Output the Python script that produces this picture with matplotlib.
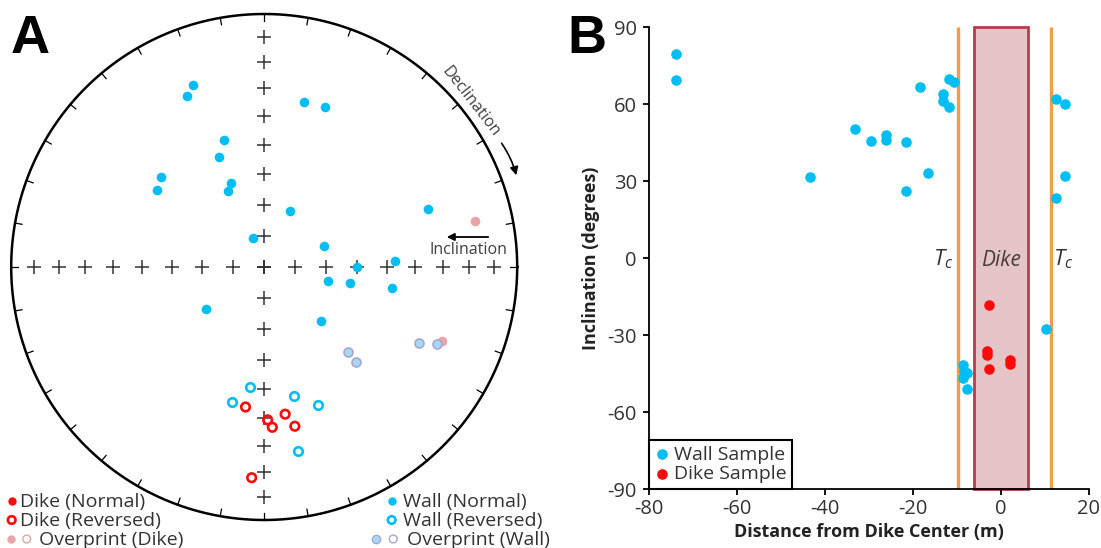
import numpy as np
import matplotlib.pyplot as plt
from matplotlib.patches import Rectangle, FancyArrowPatch

plt.rcParams['font.family'] = ['Open Sans', 'DejaVu Sans']
plt.rcParams['mathtext.fontset'] = 'custom'
plt.rcParams['mathtext.it'] = 'Open Sans:italic'
plt.rcParams['mathtext.rm'] = 'Open Sans'
plt.rcParams['axes.unicode_minus'] = False

# --- stereonet directions: declination / inclination (degrees) ---
wall_normal_dec = [338.7, 335.8, 13.6, 20.9, 342.3, 337.6, 311.1, 305.8, 338.1, 334.8, 24.6,
                   70.4, 338.6, 71.0, 87.4, 89.8, 102.0, 100.3, 99.4, 234.2, 134.0]
wall_normal_inc = [23.8, 26.9, 33.5, 32.8, 46.2, 51.2, 45.2, 46.7, 60.8, 62.8, 70.2,
                   31.7, 80.1, 69.7, 47.1, 59.8, 68.9, 61.8, 47.6, 66.8, 64.7]
wall_rev_dec = [186.7, 193.3, 167.2, 158.7, 169.6]
wall_rev_inc = [-50.4, -44.2, -46.5, -41.1, -27.1]
wall_over_dec = [135.4, 136.1, 116.2, 114.1]
wall_over_inc = [50.8, 46.7, 32.4, 26.1]
dike_normal_dec = []
dike_normal_inc = []
dike_rev_dec = [187.6, 171.9, 178.7, 177.1, 169.1, 183.4]
dike_rev_inc = [-43.5, -40.9, -39.4, -36.7, -36.1, -17.7]
dike_over_dec = [77.7, 112.7]
dike_over_inc = [16.0, 25.0]

# --- inclination vs distance ---
wall_dist = [-73.9, -73.9, -43.4, -33.2, -29.6, -26.2, -26.2, -21.5, -21.5, -18.3, -16.6,
             -13.2, -13.2, -11.8, -11.8, -10.6, 12.6, 14.6, 14.6, 12.6, 10.2,
             -8.5, -8.3, -7.6, -8.5, -7.7]
wall_incl = [79.6, 69.5, 31.6, 50.5, 45.6, 48.0, 46.1, 45.2, 26.3, 66.8, 33.3,
             64.0, 61.3, 59.1, 69.7, 68.8, 61.9, 60.3, 32.2, 23.5, -27.5,
             -41.5, -44.0, -44.8, -46.8, -51.0]
dike_dist = [-2.7, -3.1, -3.1, -2.7, 2.0, 2.0]
dike_incl = [-18.2, -36.2, -37.5, -43.2, -39.6, -41.2]
tc_left, tc_right = -9.7, 11.4
dike_edges = (-6.1, 6.1)

BLUE = '#00BEF2'
RED = '#FF0A0A'
PINK = '#E8A4A8'
LBLUE = '#A4DAF0'
LAV = '#A9A6D6'
TXT = '#333333'


def project(dec, inc):
    # equal-area (Schmidt) projection, unit radius
    d = np.radians(np.asarray(dec, float))
    i = np.abs(np.asarray(inc, float))
    r = np.sqrt(2) * np.sin(np.radians(90 - i) / 2)
    return r * np.sin(d), r * np.cos(d)


W, H = 1101, 548
fig = plt.figure(figsize=(W / 100, H / 100), dpi=100)

# ---------------- panel A: stereonet ----------------
R, cx, cy = 253.0, 264.2, 267.0
aw = 545
ax = fig.add_axes([0, 0, aw / W, 1])
ax.set_xlim(-cx / R, (aw - cx) / R)
ax.set_ylim((cy - H) / R, cy / R)
ax.axis('off')


def px(x, y):
    return (x - cx) / R, (cy - y) / R


t = np.linspace(0, 2 * np.pi, 500)
ax.plot(np.cos(t), np.sin(t), color='black', lw=1.8, zorder=2)
for d in np.radians(np.arange(0, 360, 10)):
    ax.plot([np.sin(d), 0.972 * np.sin(d)], [np.cos(d), 0.972 * np.cos(d)],
            color='black', lw=0.9, zorder=2)

grid_inc = np.arange(10, 91, 10)
gx, gy = [], []
for d in (0, 90, 180, 270):
    xx, yy = project(np.full(grid_inc.size, d), grid_inc)
    gx.extend(xx)
    gy.extend(yy)
ax.plot(gx, gy, '+', ms=9.5, mew=1.1, color=TXT, zorder=1)

x, y = project(dike_over_dec, dike_over_inc)
ax.scatter(x, y, s=48, color=PINK, lw=0, zorder=3)
x, y = project(wall_over_dec, wall_over_inc)
ax.scatter(x, y, s=42, facecolor=LBLUE, edgecolor=LAV, lw=1.2, zorder=4)
x, y = project(wall_normal_dec, wall_normal_inc)
ax.scatter(x, y, s=48, color=BLUE, lw=0, zorder=4)
x, y = project(wall_rev_dec, wall_rev_inc)
ax.scatter(x, y, s=38, facecolor='white', edgecolor=BLUE, lw=1.9, zorder=4)
x, y = project(dike_normal_dec, dike_normal_inc)
ax.scatter(x, y, s=48, color=RED, lw=0, zorder=4)
x, y = project(dike_rev_dec, dike_rev_inc)
ax.scatter(x, y, s=38, facecolor='none', edgecolor=RED, lw=1.9, zorder=5)

# direction hints
ax.text(*px(471, 102), 'Declination', rotation=-52, ha='center', va='center',
        fontsize=11.5, color='#404040')
ax.add_patch(FancyArrowPatch(px(500, 141), px(517, 178), arrowstyle='-|>',
                             connectionstyle='arc3,rad=-0.1', mutation_scale=12,
                             color='black', lw=1.2))
ax.text(*px(468, 250), 'Inclination', ha='center', va='center',
        fontsize=11.5, color='#404040')
ax.add_patch(FancyArrowPatch(px(491, 237), px(444, 237), arrowstyle='-|>',
                             mutation_scale=11, color='black', lw=1.3))

# key
rows = [
    (501, [(11.7, dict(color=RED, lw=0, s=36))], 20, 'Dike (Normal)'),
    (520, [(11.7, dict(facecolor='none', edgecolor=RED, lw=1.9, s=30))], 20, 'Dike (Reversed)'),
    (539, [(11.0, dict(color=PINK, lw=0, s=36)),
           (26.7, dict(facecolor='none', edgecolor=PINK, lw=1.0, s=32))], 39, 'Overprint (Dike)'),
    (501, [(391.7, dict(color=BLUE, lw=0, s=36))], 403.3, 'Wall (Normal)'),
    (520, [(391.7, dict(facecolor='none', edgecolor=BLUE, lw=1.9, s=30))], 403.3, 'Wall (Reversed)'),
    (539, [(376.0, dict(facecolor=LBLUE, edgecolor=LAV, lw=1.0, s=36)),
           (393.3, dict(facecolor='none', edgecolor=LAV, lw=1.0, s=32))], 406.7, 'Overprint (Wall)'),
]
for ry, marks, tx, label in rows:
    for mx, style in marks:
        ax.scatter(*px(mx, ry), clip_on=False, zorder=5, **style)
    ax.text(*px(tx, ry + 6.0), label, ha='left', va='baseline', fontsize=14,
            color=TXT, clip_on=False)

fig.text(11 / W, 1 - 53 / H, 'A', fontsize=39, fontweight='bold',
         family='Liberation Sans', va='baseline', ha='left')

# ---------------- panel B: inclination vs distance ----------------
l, r_, b, t_ = 649.4, 1088.6, 489.3, 27.3
bx = fig.add_axes([l / W, (H - b) / H, (r_ - l) / W, (b - t_) / H])
bx.set_xlim(-80, 20)
bx.set_ylim(-90, 90)
bx.set_xticks(np.arange(-80, 21, 20))
bx.set_yticks(np.arange(-90, 91, 30))
for s in ('top', 'right'):
    bx.spines[s].set_visible(False)
for s in ('left', 'bottom'):
    bx.spines[s].set_linewidth(1.3)
bx.tick_params(direction='out', length=4, width=1.3, labelsize=14.5, labelcolor=TXT)
bx.tick_params(axis='y', pad=5)
bx.tick_params(axis='x', pad=3)

bx.add_patch(Rectangle((dike_edges[0], -90), dike_edges[1] - dike_edges[0], 180,
                       facecolor='#E6C5C8', edgecolor='#B43D4D', lw=2, zorder=1,
                       clip_on=False))
bx.vlines([tc_left, tc_right], -90, 90, color='#F09D4A', lw=2.4, zorder=1)
bx.text(tc_left - 1.2, -2.6, '$T_c$', ha='right', va='baseline', fontsize=16, color=TXT)
bx.text(tc_right + 0.5, -2.6, '$T_c$', ha='left', va='baseline', fontsize=16, color=TXT)
bx.text(sum(dike_edges) / 2, -2.9, 'Dike', ha='center', va='baseline', fontsize=15,
        style='italic', color='#4A3A3E')

bx.scatter(wall_dist, wall_incl, s=58, color=BLUE, lw=0, zorder=3, label='Wall Sample')
bx.scatter(dike_dist, dike_incl, s=58, color=RED, lw=0, zorder=3, label='Dike Sample')
leg = bx.legend(loc='lower left', bbox_to_anchor=(0, 0), borderaxespad=0,
                fancybox=False, framealpha=1, edgecolor='black', fontsize=14,
                handlelength=0.7, handletextpad=0.25, borderpad=0.3,
                labelspacing=0.1, scatterpoints=1)
leg.get_frame().set_linewidth(1.5)
for txt in leg.get_texts():
    txt.set_color(TXT)

bx.set_xlabel('Distance from Dike Center (m)', fontsize=13, fontweight='bold',
              color='#222222', labelpad=3)
bx.set_ylabel('Inclination (degrees)', fontsize=13, fontweight='bold',
              color='#222222', labelpad=5)

fig.text(567 / W, 1 - 53 / H, 'B', fontsize=39, fontweight='bold',
         family='Liberation Sans', va='baseline', ha='left')

fig.savefig('out.png', dpi=100)
